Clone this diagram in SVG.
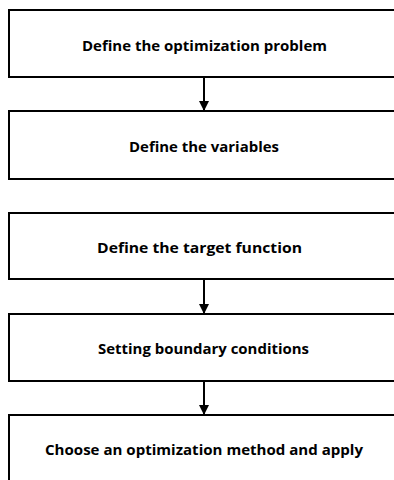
<svg xmlns="http://www.w3.org/2000/svg" width="394" height="480" viewBox="0 0 394 480">
<style>
.box{fill:#fff;stroke:#000;stroke-width:2}
.lbl{font-family:"Open Sans","Liberation Sans",Arial,sans-serif;font-weight:bold;font-size:14px;fill:#000;text-anchor:middle;dominant-baseline:central}
.conn{stroke:#000;stroke-width:2;fill:none}
</style>
<defs>
<marker id="ah" markerWidth="10" markerHeight="10" refX="10" refY="5" orient="auto" markerUnits="userSpaceOnUse">
<path d="M0,0 L10,5 L0,10 Z" fill="#000"/>
</marker>
</defs>
<rect width="394" height="480" fill="#fff"/>
<g id="n1"><rect class="box" x="9" y="10" width="392" height="67"/><text class="lbl" x="204.5" y="45" textLength="245" lengthAdjust="spacingAndGlyphs">Define the optimization problem</text></g>
<g id="n2"><rect class="box" x="9" y="111" width="392" height="68"/><text class="lbl" x="204" y="146" textLength="150" lengthAdjust="spacingAndGlyphs">Define the variables</text></g>
<g id="n3"><rect class="box" x="9" y="213" width="392" height="66"/><text class="lbl" x="199.5" y="247" textLength="205" lengthAdjust="spacingAndGlyphs">Define the target function</text></g>
<g id="n4"><rect class="box" x="9" y="314" width="392" height="67"/><text class="lbl" x="203.5" y="348" textLength="211" lengthAdjust="spacingAndGlyphs">Setting boundary conditions</text></g>
<g id="n5"><rect class="box" x="9" y="415" width="392" height="80"/><text class="lbl" x="204" y="449" textLength="318" lengthAdjust="spacingAndGlyphs">Choose an optimization method and apply</text></g>
<g id="connectors">
<line class="conn" x1="204" y1="77" x2="204" y2="111" marker-end="url(#ah)"/>
<line class="conn" x1="204" y1="279" x2="204" y2="314" marker-end="url(#ah)"/>
<line class="conn" x1="204" y1="381" x2="204" y2="415" marker-end="url(#ah)"/>
</g>
</svg>
